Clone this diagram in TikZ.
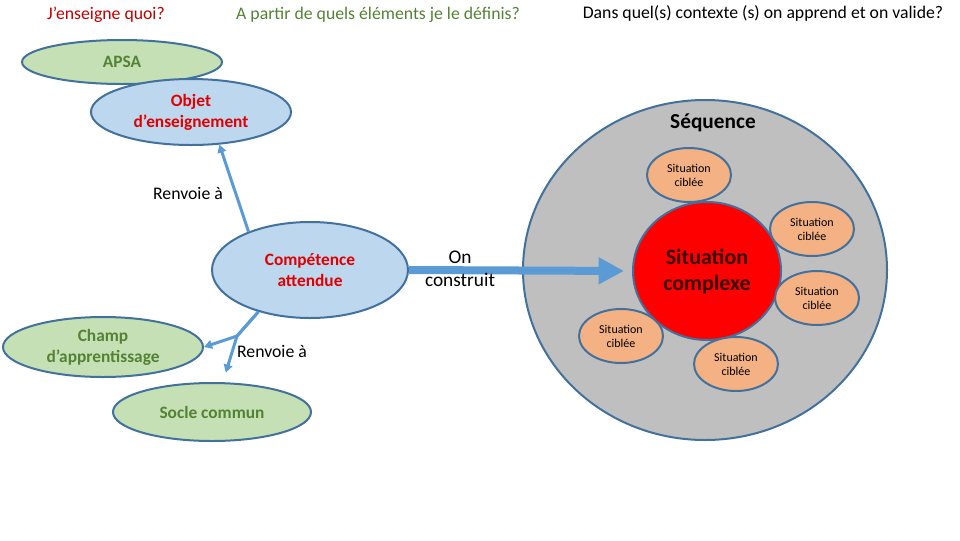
\documentclass[tikz,border=0pt]{standalone}
\usepackage{fontspec}
\setmainfont{Carlito}
\usetikzlibrary{arrows.meta,shapes.geometric}
\definecolor{bord}{HTML}{41719C}
\definecolor{vert}{HTML}{C5E0B4}
\definecolor{vertfonce}{HTML}{548235}
\definecolor{bleu}{HTML}{BDD7EE}
\definecolor{fleche}{HTML}{5B9BD5}
\definecolor{rouge}{HTML}{E00000}
\definecolor{titrerouge}{HTML}{C00000}
\definecolor{gris}{HTML}{BFBFBF}
\definecolor{saumon}{HTML}{F4B183}
\definecolor{sombre}{HTML}{3A0808}

\begin{document}
\begin{tikzpicture}[x=0.75pt, y=-0.75pt,
  oval/.style={ellipse, draw=bord, line width=1.5pt, inner sep=0pt, align=center, font=\fontsize{13pt}{15.75pt}\selectfont\bfseries},
  vertoval/.style={oval, fill=vert, text=vertfonce},
  bleuoval/.style={oval, fill=bleu, text=rouge},
  cible/.style={ellipse, draw=bord, line width=1.5pt, fill=saumon, minimum width=63pt, minimum height=40.5pt, inner sep=0pt, align=center, font=\fontsize{9pt}{10.5pt}\selectfont},
  arr/.style={-{Triangle[length=6pt,width=6.5pt]}, fleche, line width=2.25pt, line join=round},
  grosarr/.style={-{Triangle[length=19pt,width=19pt]}, fleche, line width=6pt},
  txt/.style={font=\fontsize{13.3pt}{15.75pt}\selectfont, align=center}]
  \useasboundingbox (0,0) rectangle (960,540);
  % titres
  \node[txt, text=titrerouge] (t1) at (106,15) {J’enseigne quoi?};
  \node[txt, text=vertfonce] (t2) at (378,15) {A partir de quels éléments je le définis?};
  \node[txt] (t3) at (763,13) {Dans quel(s) contexte (s) on apprend et on valide?};
  % partie gauche
  \node[vertoval, minimum width=150pt, minimum height=33pt] (apsa) at (122,62) {APSA};
  \node[bleuoval, minimum width=150pt, minimum height=49.5pt] (objet) at (191,112) {Objet\\d’enseignement};
  \node[bleuoval, minimum width=147pt, minimum height=72pt] (comp) at (310,270) {Compétence\\attendue};
  \node[vertoval, minimum width=150pt, minimum height=45pt] (champ) at (103,347) {Champ\\d’apprentissage};
  \node[vertoval, minimum width=148.5pt, minimum height=43.5pt] (socle) at (212,412) {Socle commun};
  \coordinate (fourche) at (237,336);
  \draw[arr] (comp.148) -- (objet.-49);
  \draw[arr] (comp.219) -- (fourche) -- (champ.east);
  \draw[arr, shorten >=7.5pt] (comp.219) -- (fourche) -- (socle.70);
  \node[txt] (renvoi1) at (188,193) {Renvoie à};
  \node[txt] (renvoi2) at (272,351) {Renvoie à};
  % partie droite
  \node[ellipse, draw=bord, line width=1.5pt, fill=gris, minimum width=273pt, minimum height=255pt, inner sep=0pt] (seq) at (705,270) {};
  \node[txt, font=\fontsize{16pt}{19pt}\selectfont\bfseries] (seqlab) at (713,123) {Séquence};
  \node[ellipse, draw=bord, line width=1.5pt, fill=red, text=sombre, minimum width=111pt, minimum height=103.5pt, inner sep=0pt, align=center, font=\fontsize{16.5pt}{19.5pt}\selectfont\bfseries] (cplx) at (707,271) {Situation\\complexe};
  \node[cible] (c1) at (689,175) {Situation\\ciblée};
  \node[cible] (c2) at (812,229) {Situation\\ciblée};
  \node[cible] (c3) at (817,298) {Situation\\ciblée};
  \node[cible] (c4) at (736,364) {Situation\\ciblée};
  \node[cible] (c5) at (621,336) {Situation\\ciblée};
  \draw[grosarr, shorten >=6pt] (comp.east) -- (cplx.west);
  \node[txt, font=\fontsize{14.5pt}{17.5pt}\selectfont] (construit) at (460,269) {On\\construit};
\end{tikzpicture}
\end{document}
